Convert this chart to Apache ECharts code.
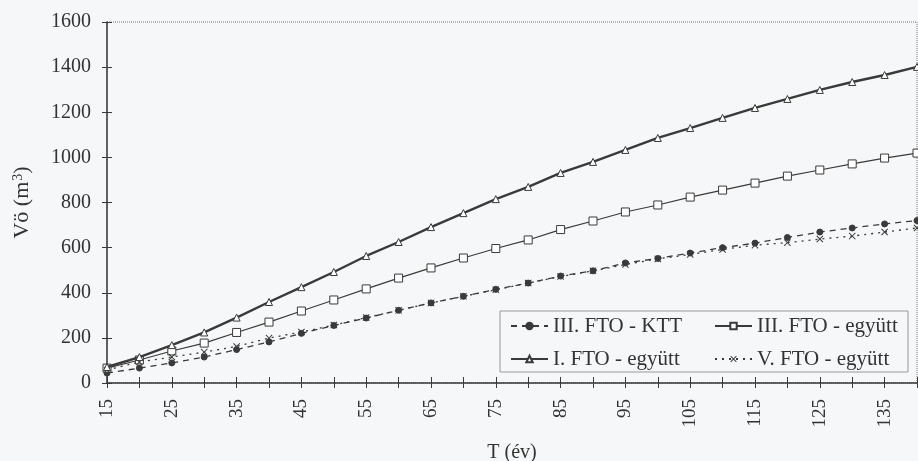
<!DOCTYPE html>
<html>
<head>
<meta charset="utf-8">
<script src="https://cdn.jsdelivr.net/npm/echarts@6/dist/echarts.min.js"></script>
<style>
  html, body {margin: 0; padding: 0; background: #f6f7f8;}
  #chart {width: 918px; height: 461px;}
</style>
</head>
<body>
<div id="chart"></div>
<script>
// T (év)
var years = [15, 20, 25, 30, 35, 40, 45, 50, 55, 60, 65, 70, 75, 80, 85, 90, 95, 100, 105, 110, 115, 120, 125, 130, 135, 140];

// Vö (m3)
var ktt3 = [44, 66, 89, 115, 148, 182, 220, 255, 288, 322, 355, 384, 415, 443, 474, 497, 532, 552, 576, 600, 620, 645, 669, 687, 705, 720];
var egyutt1 = [71, 115, 168, 224, 290, 359, 425, 492, 563, 625, 691, 753, 815, 869, 931, 980, 1033, 1086, 1130, 1175, 1219, 1259, 1299, 1334, 1365, 1401];
var egyutt3 = [66, 102, 142, 177, 224, 270, 319, 368, 417, 465, 510, 554, 596, 634, 680, 718, 758, 789, 824, 855, 886, 917, 944, 971, 997, 1019];
var egyutt5 = [58, 93, 115, 137, 162, 199, 226, 257, 290, 322, 355, 384, 413, 443, 472, 497, 525, 550, 570, 592, 611, 622, 638, 651, 669, 687];

var names = ['III. FTO - KTT', 'I. FTO - együtt', 'III. FTO - együtt', 'V. FTO - együtt'];

var ink = '#3a3a3a';
var font = 'Liberation Serif';
var cross = 'path://M0,1L1,0L5,4L9,0L10,1L6,5L10,9L9,10L5,6L1,10L0,9L4,5Z';

var pairs = function (vals) {
    return years.map(function (y, i) { return [y, vals[i]]; });
};

var xLabel = function (v) {
    return (v - 15) % 10 === 0 ? String(v) : '';
};

var line = function (name, vals, opt) {
    return {
        name: name,
        type: 'line',
        data: pairs(vals),
        symbol: opt.symbol,
        symbolSize: opt.size,
        showAllSymbol: true,
        z: opt.z || 2,
        itemStyle: {color: opt.fill, borderColor: ink, borderWidth: opt.border},
        lineStyle: {color: ink, width: opt.width, type: opt.type}
    };
};

var chart = echarts.init(document.getElementById('chart'));

chart.setOption({
    backgroundColor: '#f6f7f8',
    animation: false,
    textStyle: {fontFamily: font, color: '#333'},
    grid: {
        left: 107, right: 1, top: 22, bottom: 78,
        outerBoundsMode: 'none',
        show: true, borderColor: '#777', borderWidth: 1, borderType: 'dotted',
        backgroundColor: 'transparent'
    },
    legend: {
        data: names,
        orient: 'vertical',
        left: 500, top: 311,
        height: 58,
        itemWidth: 37, itemHeight: 8, itemGap: 11,
        padding: [4, 1, 2, 10],
        borderColor: '#999', borderWidth: 1,
        backgroundColor: '#f6f7f8',
        textStyle: {fontFamily: font, fontSize: 21, lineHeight: 22, color: '#333', width: 150}
    },
    xAxis: [{
        type: 'value', min: 15, max: 140, interval: 5,
        name: 'T (év)', nameLocation: 'middle', nameGap: 60,
        nameTextStyle: {fontFamily: font, fontSize: 20, color: '#333'},
        axisLine: {lineStyle: {color: ink, width: 1.5}},
        axisTick: {length: 5, lineStyle: {color: ink}},
        axisLabel: {rotate: 90, margin: 16, fontSize: 19, color: '#333', fontFamily: font, formatter: xLabel},
        splitLine: {show: false}
    }, {
        type: 'value', min: 15, max: 140, interval: 5, position: 'bottom',
        axisLine: {show: false},
        axisTick: {inside: true, length: 6, lineStyle: {color: ink}},
        axisLabel: {show: false},
        splitLine: {show: false}
    }],
    yAxis: [{
        type: 'value', min: 0, max: 1600, interval: 200,
        name: '{a|Vö (m}{s|3}{a|)}', nameLocation: 'middle', nameGap: 74,
        nameTextStyle: {
            rich: {
                a: {fontFamily: font, fontSize: 22, color: '#333'},
                s: {fontFamily: font, fontSize: 14, color: '#333', verticalAlign: 'top', padding: [0, 0, 8, 1]}
            }
        },
        axisLine: {show: true, lineStyle: {color: ink, width: 1.5}},
        axisTick: {show: true, length: 5, lineStyle: {color: ink}},
        axisLabel: {margin: 16, fontSize: 20, color: '#333', fontFamily: font, formatter: function (v) { return String(v); }},
        splitLine: {show: false}
    }, {
        type: 'value', min: 0, max: 1600, interval: 200, position: 'left',
        axisLine: {show: false},
        axisTick: {show: true, inside: true, length: 5, lineStyle: {color: ink}},
        axisLabel: {show: false},
        splitLine: {show: false}
    }],
    series: [
        line(names[0], ktt3, {symbol: 'circle', size: 6, fill: ink, border: 1, width: 1.3, type: [6, 5]}),
        line(names[1], egyutt1, {symbol: 'triangle', size: 7, fill: '#fff', border: 1, width: 2.4, type: 'solid', z: 3}),
        line(names[2], egyutt3, {symbol: 'rect', size: 8, fill: '#fff', border: 1, width: 1.2, type: 'solid'}),
        line(names[3], egyutt5, {symbol: cross, size: 7, fill: ink, border: 0, width: 1.3, type: [2, 5]})
    ]
});
</script>
</body>
</html>
